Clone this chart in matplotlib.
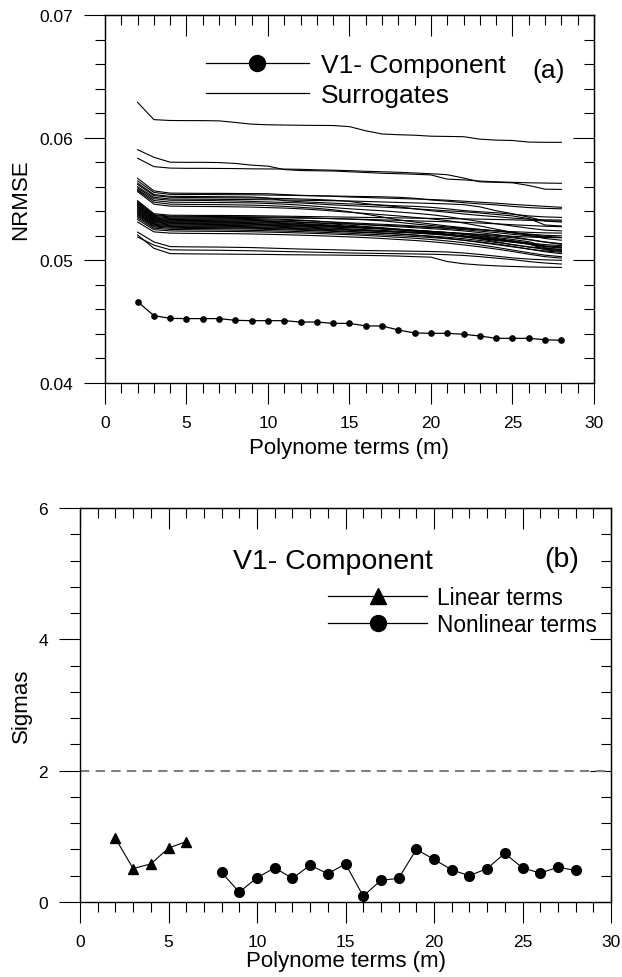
import numpy as np
import matplotlib
matplotlib.use("Agg")
import matplotlib.pyplot as plt
from matplotlib.lines import Line2D
from matplotlib.ticker import MultipleLocator

plt.rcParams["font.family"] = ["Liberation Sans", "DejaVu Sans"]

# ---------------------------
# Panel (a): NRMSE vs polynome terms
# ---------------------------
terms_a = list(range(2, 29))

v1_nrmse = [0.04663, 0.04549, 0.04527, 0.04525, 0.04525, 0.04525, 0.04511,
            0.04508, 0.04508, 0.04508, 0.04497, 0.04497, 0.04486, 0.04486,
            0.04465, 0.04465, 0.04432, 0.04408, 0.04405, 0.04405, 0.04397,
            0.04383, 0.04364, 0.04364, 0.04364, 0.04353, 0.04348]

# surrogate curves, NRMSE in units of 1e-5
surr_top = [
    [6288, 6147, 6140, 6139, 6139, 6137, 6124, 6110, 6105, 6103, 6101, 6100, 6099, 6090, 6056, 6030, 6024, 6020, 6012, 6010, 6008, 5988, 5980, 5977, 5964, 5962, 5962],
    [5902, 5840, 5800, 5799, 5799, 5797, 5790, 5776, 5768, 5740, 5732, 5730, 5728, 5722, 5716, 5710, 5706, 5702, 5696, 5662, 5656, 5646, 5640, 5636, 5632, 5630, 5628],
    [5832, 5764, 5752, 5750, 5750, 5749, 5748, 5746, 5745, 5744, 5742, 5738, 5735, 5731, 5726, 5722, 5718, 5712, 5706, 5698, 5671, 5640, 5636, 5632, 5610, 5580, 5578],
]
surr_upper = [
    [5669, 5566, 5548, 5547, 5546, 5546, 5545, 5544, 5543, 5536, 5530, 5526, 5522, 5516, 5512, 5508, 5504, 5500, 5496, 5490, 5482, 5474, 5466, 5456, 5448, 5440, 5432],
    [5648, 5553, 5538, 5537, 5537, 5536, 5535, 5534, 5532, 5530, 5528, 5526, 5524, 5522, 5520, 5518, 5514, 5506, 5492, 5482, 5470, 5460, 5452, 5440, 5430, 5424, 5420],
    [5630, 5536, 5522, 5521, 5520, 5519, 5518, 5516, 5508, 5486, 5478, 5472, 5466, 5460, 5455, 5450, 5444, 5440, 5432, 5420, 5406, 5396, 5388, 5376, 5362, 5354, 5350],
    [5618, 5528, 5514, 5512, 5511, 5510, 5509, 5508, 5506, 5504, 5500, 5496, 5490, 5480, 5462, 5448, 5436, 5420, 5404, 5392, 5378, 5366, 5356, 5344, 5336, 5330, 5328],
    [5600, 5514, 5500, 5499, 5498, 5497, 5496, 5495, 5494, 5492, 5490, 5488, 5486, 5484, 5480, 5476, 5472, 5468, 5464, 5460, 5454, 5436, 5404, 5380, 5352, 5320, 5312],
    [5590, 5502, 5490, 5489, 5488, 5486, 5484, 5480, 5476, 5472, 5468, 5460, 5452, 5446, 5440, 5434, 5428, 5420, 5412, 5404, 5396, 5386, 5374, 5362, 5340, 5288, 5280],
    [5578, 5488, 5474, 5473, 5472, 5471, 5470, 5468, 5464, 5458, 5450, 5440, 5430, 5420, 5412, 5404, 5394, 5384, 5372, 5356, 5336, 5316, 5298, 5280, 5262, 5246, 5240],
    [5570, 5474, 5458, 5456, 5455, 5454, 5452, 5450, 5446, 5440, 5432, 5424, 5412, 5396, 5376, 5354, 5330, 5312, 5296, 5280, 5266, 5252, 5240, 5226, 5214, 5204, 5200],
    [5560, 5458, 5442, 5440, 5439, 5438, 5436, 5434, 5430, 5426, 5420, 5412, 5402, 5392, 5382, 5372, 5362, 5350, 5338, 5324, 5304, 5280, 5254, 5228, 5202, 5178, 5164],
]
surr_lower = [
    [5486, 5380, 5368, 5367, 5366, 5366, 5365, 5364, 5362, 5360, 5358, 5356, 5354, 5352, 5350, 5348, 5346, 5344, 5342, 5340, 5338, 5336, 5333, 5330, 5326, 5322, 5320],
    [5478, 5372, 5360, 5359, 5358, 5357, 5356, 5355, 5354, 5352, 5348, 5344, 5340, 5336, 5330, 5322, 5310, 5296, 5284, 5272, 5262, 5252, 5240, 5224, 5210, 5196, 5186],
    [5470, 5366, 5354, 5352, 5351, 5350, 5350, 5349, 5348, 5346, 5344, 5342, 5340, 5337, 5334, 5330, 5326, 5322, 5318, 5314, 5310, 5304, 5298, 5290, 5284, 5278, 5274],
    [5462, 5358, 5346, 5345, 5344, 5343, 5342, 5340, 5338, 5334, 5328, 5320, 5310, 5300, 5290, 5282, 5274, 5266, 5258, 5250, 5240, 5226, 5210, 5192, 5170, 5150, 5136],
    [5456, 5350, 5340, 5338, 5337, 5336, 5335, 5333, 5330, 5327, 5323, 5318, 5312, 5306, 5300, 5294, 5288, 5280, 5272, 5264, 5256, 5248, 5240, 5234, 5228, 5224, 5222],
    [5448, 5344, 5333, 5332, 5331, 5330, 5328, 5326, 5322, 5318, 5312, 5304, 5296, 5286, 5276, 5266, 5254, 5242, 5228, 5214, 5196, 5174, 5152, 5128, 5110, 5098, 5090],
    [5440, 5338, 5326, 5325, 5324, 5323, 5322, 5320, 5317, 5314, 5310, 5306, 5301, 5296, 5291, 5286, 5280, 5274, 5268, 5260, 5250, 5238, 5226, 5212, 5200, 5190, 5186],
    [5432, 5332, 5320, 5318, 5317, 5316, 5315, 5313, 5310, 5306, 5300, 5294, 5286, 5278, 5270, 5262, 5254, 5246, 5236, 5226, 5212, 5196, 5178, 5160, 5142, 5128, 5120],
    [5424, 5326, 5314, 5312, 5311, 5310, 5309, 5307, 5304, 5300, 5295, 5289, 5282, 5274, 5266, 5258, 5250, 5242, 5234, 5226, 5218, 5208, 5196, 5184, 5168, 5148, 5130],
    [5416, 5320, 5308, 5306, 5305, 5304, 5302, 5300, 5297, 5293, 5289, 5284, 5278, 5272, 5266, 5258, 5248, 5236, 5222, 5206, 5190, 5176, 5162, 5148, 5134, 5118, 5110],
    [5408, 5314, 5302, 5300, 5299, 5298, 5296, 5294, 5291, 5288, 5284, 5280, 5275, 5270, 5264, 5258, 5252, 5244, 5236, 5226, 5214, 5200, 5186, 5170, 5152, 5112, 5100],
    [5400, 5308, 5296, 5294, 5293, 5292, 5290, 5288, 5285, 5282, 5278, 5274, 5270, 5266, 5261, 5256, 5250, 5243, 5236, 5228, 5220, 5212, 5204, 5196, 5190, 5186, 5184],
    [5392, 5300, 5289, 5287, 5286, 5285, 5284, 5282, 5279, 5276, 5272, 5267, 5262, 5256, 5250, 5244, 5237, 5230, 5222, 5212, 5200, 5186, 5170, 5152, 5132, 5102, 5084],
    [5384, 5294, 5282, 5280, 5279, 5278, 5276, 5274, 5271, 5268, 5264, 5260, 5255, 5250, 5244, 5238, 5231, 5224, 5216, 5208, 5198, 5186, 5172, 5156, 5136, 5086, 5072],
    [5376, 5286, 5276, 5274, 5273, 5272, 5270, 5268, 5265, 5262, 5258, 5254, 5250, 5245, 5240, 5234, 5228, 5222, 5214, 5204, 5192, 5180, 5166, 5150, 5132, 5112, 5104],
    [5368, 5280, 5270, 5268, 5267, 5266, 5264, 5262, 5259, 5256, 5252, 5247, 5242, 5236, 5230, 5224, 5216, 5206, 5194, 5180, 5164, 5146, 5128, 5110, 5092, 5076, 5066],
    [5358, 5272, 5262, 5260, 5259, 5258, 5257, 5255, 5252, 5249, 5245, 5241, 5236, 5231, 5226, 5220, 5214, 5206, 5198, 5188, 5176, 5162, 5146, 5128, 5108, 5090, 5080],
    [5346, 5262, 5252, 5250, 5249, 5248, 5246, 5244, 5241, 5238, 5234, 5230, 5225, 5220, 5214, 5208, 5201, 5194, 5186, 5176, 5164, 5150, 5134, 5114, 5092, 5070, 5054],
    [5332, 5250, 5240, 5238, 5237, 5236, 5235, 5233, 5230, 5227, 5223, 5219, 5214, 5209, 5203, 5196, 5188, 5180, 5170, 5158, 5144, 5126, 5106, 5084, 5062, 5042, 5030],
    [5312, 5232, 5222, 5220, 5219, 5218, 5217, 5215, 5212, 5209, 5205, 5201, 5196, 5191, 5185, 5178, 5170, 5162, 5152, 5140, 5126, 5110, 5092, 5072, 5050, 5030, 5018],
]
surr_bottom = [
    [5230, 5150, 5112, 5110, 5109, 5108, 5106, 5104, 5100, 5096, 5092, 5089, 5086, 5083, 5080, 5078, 5076, 5074, 5072, 5068, 5060, 5048, 5034, 5020, 5010, 5004, 5000],
    [5190, 5124, 5086, 5084, 5083, 5082, 5080, 5078, 5075, 5072, 5069, 5066, 5063, 5060, 5058, 5056, 5054, 5052, 5050, 5046, 5040, 5030, 5018, 5006, 4990, 4978, 4970],
    [5207, 5098, 5055, 5053, 5052, 5051, 5050, 5049, 5048, 5046, 5045, 5044, 5043, 5041, 5040, 5038, 5035, 5030, 5026, 4990, 4972, 4962, 4955, 4950, 4946, 4944, 4942],
]

# ---------------------------
# Panel (b): sigmas vs polynome terms
# ---------------------------
linear_terms = [2, 3, 4, 5, 6]
linear_sigmas = [0.97, 0.51, 0.58, 0.82, 0.92]
nonlinear_terms = list(range(8, 29))
nonlinear_sigmas = [0.45, 0.15, 0.37, 0.52, 0.36, 0.56, 0.43, 0.58, 0.09, 0.33,
                    0.36, 0.80, 0.65, 0.49, 0.40, 0.51, 0.74, 0.52, 0.44, 0.53, 0.48]

TICK_FS = 12.5
LABEL_FS = 16
MAJ_LEN = 15
MIN_LEN = 7.2


def style_axes(ax, xmaj, xmin, ymaj, ymin):
    ax.xaxis.set_major_locator(MultipleLocator(xmaj))
    ax.xaxis.set_minor_locator(MultipleLocator(xmin))
    ax.yaxis.set_major_locator(MultipleLocator(ymaj))
    ax.yaxis.set_minor_locator(MultipleLocator(ymin))
    ax.tick_params(which="major", direction="out", length=MAJ_LEN, width=0.8,
                   labelsize=TICK_FS, pad=8, top=False, right=False)
    ax.tick_params(which="minor", direction="out", length=MIN_LEN, width=0.8,
                   top=False, right=False)
    for sp in ax.spines.values():
        sp.set_linewidth(1.0)

    # top and right ticks point inward
    sx = ax.secondary_xaxis("top")
    sx.xaxis.set_major_locator(MultipleLocator(xmaj))
    sx.xaxis.set_minor_locator(MultipleLocator(xmin))
    sx.tick_params(which="major", direction="in", length=MAJ_LEN, width=0.8, labeltop=False)
    sx.tick_params(which="minor", direction="in", length=MIN_LEN, width=0.8)
    sy = ax.secondary_yaxis("right")
    sy.yaxis.set_major_locator(MultipleLocator(ymaj))
    sy.yaxis.set_minor_locator(MultipleLocator(ymin))
    sy.tick_params(which="major", direction="in", length=MAJ_LEN, width=0.8, labelright=False)
    sy.tick_params(which="minor", direction="in", length=MIN_LEN, width=0.8)


fig = plt.figure(figsize=(6.22, 9.78), dpi=100)

# ---------- (a) ----------
ax1 = fig.add_axes([0.16881, 0.60736, 0.78617, 0.37628])
for group in (surr_top, surr_upper, surr_lower, surr_bottom):
    for row in group:
        ax1.plot(terms_a, np.array(row) * 1e-5, color="black", lw=0.8)
ax1.plot(terms_a, v1_nrmse, color="black", lw=0.9, marker="o", ms=3.8)
ax1.set_xlim(0, 30)
ax1.set_ylim(0.04, 0.07)
style_axes(ax1, 5, 1, 0.01, 0.002)
ax1.set_yticks([0.04, 0.05, 0.06, 0.07])
ax1.set_yticklabels(["0.04", "0.05", "0.06", "0.07"])
ax1.set_xlabel("Polynome terms (m)", fontsize=LABEL_FS)
ax1.set_ylabel("NRMSE", fontsize=LABEL_FS)
ax1.xaxis.set_label_coords(0.5, -0.148)
ax1.yaxis.set_label_coords(-0.152, 0.5)

h_v1 = Line2D([], [], color="black", lw=0.9, marker="o", ms=11.5)
h_sur = Line2D([], [], color="black", lw=0.9)
ax1.legend([h_v1, h_sur], ["V1- Component", "Surrogates"], loc="upper left",
           bbox_to_anchor=(0.2065, 0.896), frameon=False, fontsize=19,
           handlelength=3.9, handletextpad=0.45, labelspacing=0.21,
           borderpad=0, borderaxespad=0)
ax1.text(0.908, 0.851, "(a)", transform=ax1.transAxes, fontsize=19,
         ha="center", va="center")

# ---------- (b) ----------
ax2 = fig.add_axes([0.12862, 0.07669, 0.85370, 0.40286])
ax2.axhline(2, color="#808080", lw=1.5, linestyle=(0, (4.5, 3)))
ax2.plot(linear_terms, linear_sigmas, color="black", lw=0.8, marker="^", ms=7)
ax2.plot(nonlinear_terms, nonlinear_sigmas, color="black", lw=0.8, marker="o", ms=7)
ax2.set_xlim(0, 30)
ax2.set_ylim(0, 6)
style_axes(ax2, 5, 1, 2, 0.4)
ax2.set_xlabel("Polynome terms (m)", fontsize=LABEL_FS)
ax2.set_ylabel("Sigmas", fontsize=LABEL_FS)
ax2.xaxis.set_label_coords(0.5, -0.122)
ax2.yaxis.set_label_coords(-0.09, 0.5)

h_lin = Line2D([], [], color="black", lw=0.9, marker="^", ms=11.5)
h_non = Line2D([], [], color="black", lw=0.9, marker="o", ms=11.5)
ax2.legend([h_lin, h_non], ["Linear terms", "Nonlinear terms"], loc="upper left",
           bbox_to_anchor=(0.467, 0.801), frameon=False, fontsize=16.3,
           handlelength=4.38, handletextpad=0.44, labelspacing=0.16,
           borderpad=0, borderaxespad=0)
ax2.text(0.476, 0.8655, "V1- Component", transform=ax2.transAxes, fontsize=20.5,
         ha="center", va="center")
ax2.text(0.908, 0.8706, "(b)", transform=ax2.transAxes, fontsize=20.5,
         ha="center", va="center")

fig.savefig("out.png", dpi=100)
